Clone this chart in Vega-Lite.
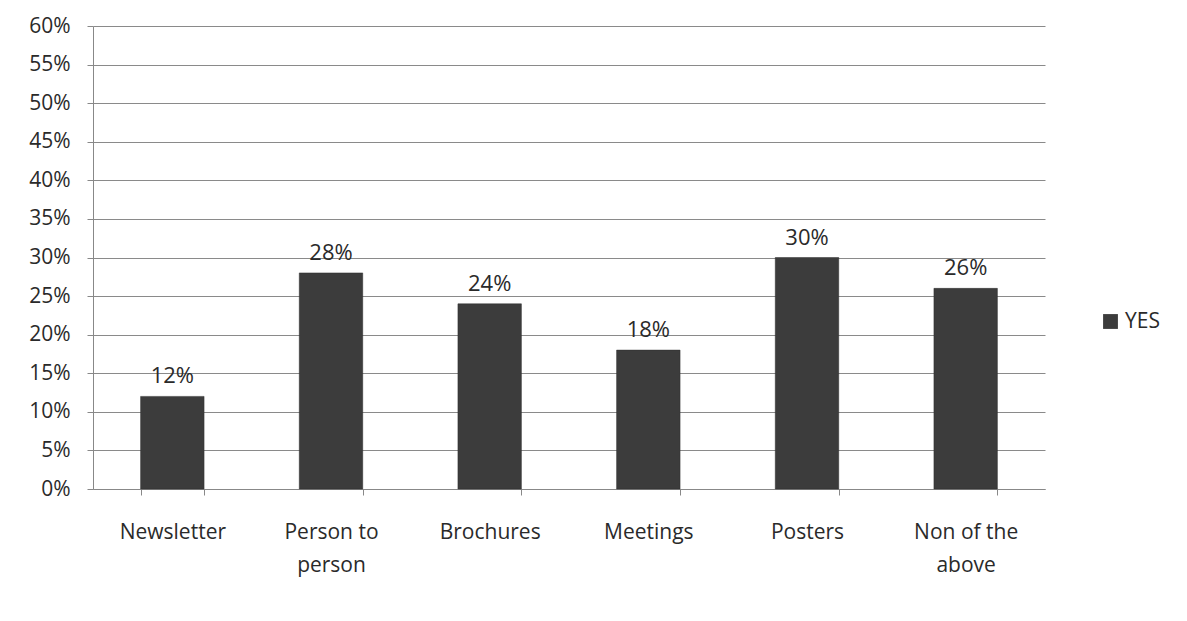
{
  "$schema": "https://vega.github.io/schema/vega-lite/v6.json",
  "width": 952,
  "height": 463,
  "autosize": {"type": "none"},
  "padding": {"left": 93, "top": 26, "right": 142, "bottom": 132},
  "background": "#ffffff",
  "config": {
    "view": {"stroke": null},
    "font": "Open Sans"
  },
  "data": {
    "values": [
      {"method": "Newsletter", "share": 0.12, "series": "YES"},
      {"method": "Person to person", "share": 0.28, "series": "YES"},
      {"method": "Brochures", "share": 0.24, "series": "YES"},
      {"method": "Meetings", "share": 0.18, "series": "YES"},
      {"method": "Posters", "share": 0.30, "series": "YES"},
      {"method": "Non of the above", "share": 0.26, "series": "YES"}
    ]
  },
  "encoding": {
    "x": {
      "field": "method",
      "type": "nominal",
      "sort": null,
      "scale": {"paddingInner": 0.6, "paddingOuter": 0.3},
      "axis": {
        "title": null,
        "labelAngle": 0,
        "labelPadding": 26,
        "labelFontSize": 21,
        "labelFont": "Open Sans",
        "labelColor": "#2a2a2a",
        "labelLineHeight": 33,
        "labelBaseline": "top",
        "domainColor": "#888888",
        "tickColor": "#888888",
        "tickSize": 6,
        "tickBand": "extent",
        "labelExpr": "datum.label == 'Person to person' ? ['Person to', 'person'] : datum.label == 'Non of the above' ? ['Non of the', 'above'] : datum.label"
      }
    },
    "y": {
      "field": "share",
      "type": "quantitative",
      "scale": {"domain": [0, 0.6], "nice": false},
      "axis": {
        "title": null,
        "format": ".0%",
        "values": [0, 0.05, 0.1, 0.15, 0.2, 0.25, 0.3, 0.35, 0.4, 0.45, 0.5, 0.55, 0.6],
        "grid": true,
        "gridColor": "#8a8a8a",
        "gridWidth": 1,
        "domainColor": "#888888",
        "tickColor": "#888888",
        "tickSize": 6,
        "labelPadding": 17,
        "labelFontSize": 21,
        "labelFont": "Open Sans",
        "labelColor": "#2a2a2a"
      }
    }
  },
  "layer": [
    {
      "mark": {"type": "bar", "stroke": "#2e2e2e", "strokeWidth": 0.5},
      "encoding": {
        "color": {
          "field": "series",
          "type": "nominal",
          "scale": {"range": ["#3c3c3c"]},
          "legend": {
            "title": null,
            "orient": "none",
            "legendX": 1007,
            "legendY": 285,
            "symbolType": "square",
            "symbolSize": 220,
            "symbolStrokeWidth": 0,
            "labelFontSize": 21,
            "labelColor": "#2a2a2a",
            "labelFont": "Open Sans",
            "labelOffset": 4
          }
        }
      }
    },
    {
      "mark": {"type": "text", "baseline": "bottom", "dy": -8, "fontSize": 22, "color": "#2a2a2a", "font": "Open Sans"},
      "encoding": {
        "text": {"field": "share", "type": "quantitative", "format": ".0%"}
      }
    }
  ]
}
